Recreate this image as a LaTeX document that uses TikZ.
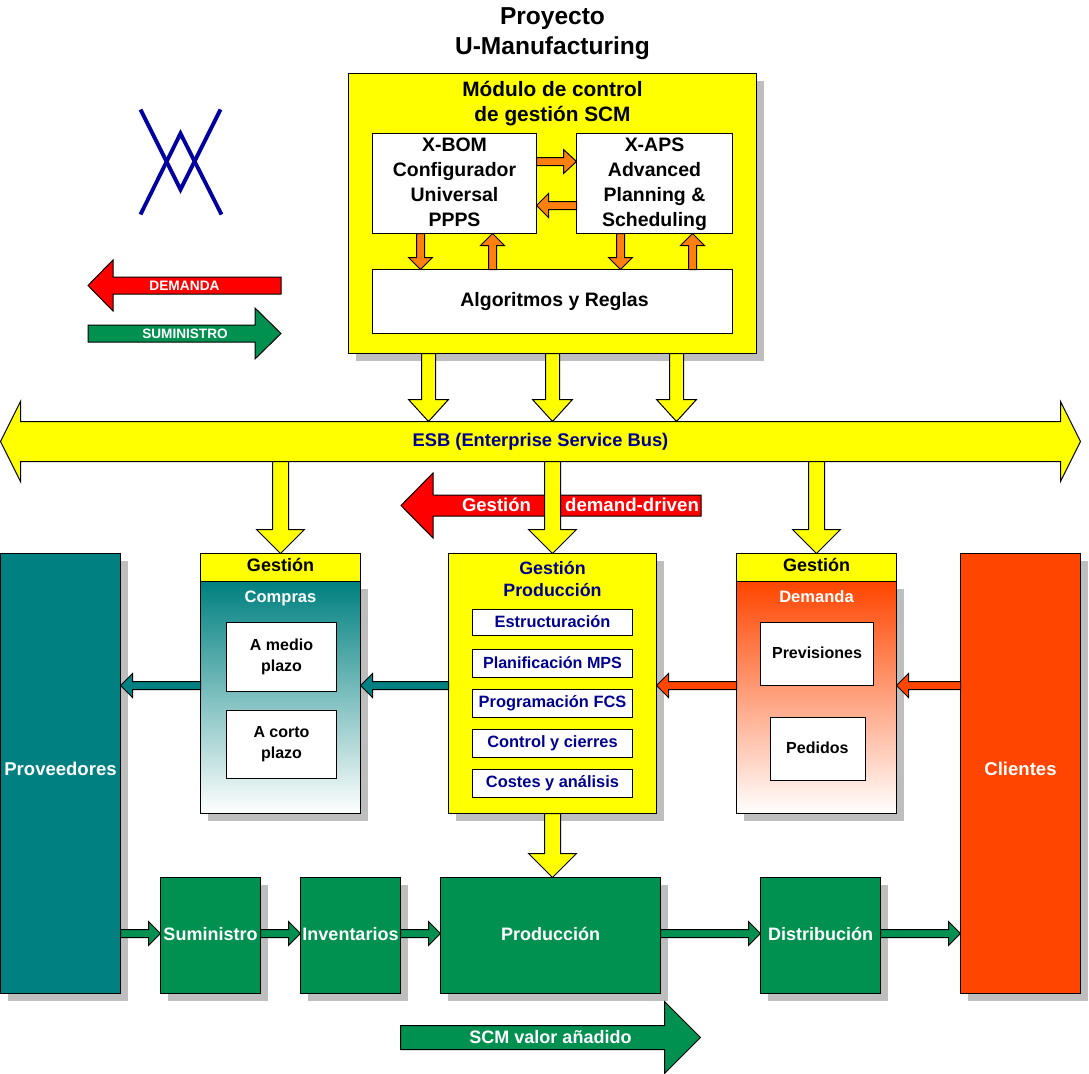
\documentclass[tikz,border=0pt]{standalone}
\usepackage{fontspec}
\setmainfont{Liberation Sans}
\usetikzlibrary{calc,shadows}
\definecolor{shadowc}{HTML}{BEBEBE}
\definecolor{yel}{HTML}{FFFF00}
\definecolor{org}{HTML}{FF7F0F}
\definecolor{tealc}{HTML}{008080}
\definecolor{redo}{HTML}{FF4500}
\definecolor{grn}{HTML}{009050}
\definecolor{navyc}{HTML}{000090}
\definecolor{logoc}{HTML}{0000A0}
\newcommand{\fsz}[2]{\fontsize{#1}{#2}\selectfont\bfseries}
\newcommand{\up}[2]{\raisebox{#1}{#2}}
\newcommand{\bx}[7][]{\node[boxn,#1,minimum width={(#5-#3)*0.75pt},minimum height={(#6-#4)*0.75pt}] (#2) at ({(#3+#5)/2},{(#4+#6)/2}) {#7};}
% block arrow from #1 to #2: shaft half, head half, head length in px
\newcommand{\barrow}[6]{%
  \coordinate (ba) at #1; \coordinate (bb) at #2;
  \coordinate (bc) at ($(bb)!{#5*0.75pt}!(ba)$);
  \draw[arrowb,fill=#6] ($(ba)!{#3*0.75pt}!90:(bb)$) -- ($(bc)!{#3*0.75pt}!90:(bb)$) -- ($(bc)!{#4*0.75pt}!90:(bb)$) -- (bb) -- ($(bc)!{#4*0.75pt}!-90:(bb)$) -- ($(bc)!{#3*0.75pt}!-90:(bb)$) -- ($(ba)!{#3*0.75pt}!-90:(bb)$) -- cycle;}
\tikzset{
  boxn/.style={draw=black,line width=0.75pt,inner sep=0pt,outer sep=0pt,align=center,font=\fsz{14.6}{18.75}},
  shad/.style={drop shadow={shadow xshift=5.5pt,shadow yshift=-5.5pt,fill=shadowc,opacity=1}},
  arrowb/.style={draw=black,line width=0.75pt,line join=miter},
  lbl/.style={inner sep=0pt,outer sep=0pt,align=center},
  logol/.style={draw=logoc,line width=2.9pt,line cap=butt,line join=miter},
  grad/.style={shade,top color=#1,bottom color=white,shading angle=0},
  blue/.style={text=navyc,font=\fsz{12.3}{15}},
  inbox/.style={fill=white,font=\fsz{12}{15.75}},
  green/.style={fill=grn,text=white,shad,font=\fsz{13.5}{16}},
  head/.style={fill=yel,font=\fsz{13.5}{16}},
}
\begin{document}
\begin{tikzpicture}[x=0.75pt,y=-0.75pt]
\useasboundingbox (-0.5,-0.5) rectangle (1088.5,1073.5);
% guides
\foreach \g in {280,420,428,492,552,620,676,692,816}{\coordinate (gx\g) at (\g,0);}
\foreach \g in {161,205,685,933}{\coordinate (gy\g) at (0,\g);}
% title
\node[lbl,font=\fsz{18.4}{22.5}] (title) at (552,33) {Proyecto\\U-Manufacturing};
% logo
\coordinate (la) at (140,109);\coordinate (lb) at (180,189);\coordinate (lc) at (220,109);
\coordinate (ld) at (140,214);\coordinate (le) at (180,133);\coordinate (lf) at (221,214);
\draw[logol] (la) -- (lb) -- (lc);
\draw[logol] (ld) -- (le) -- (lf);
% legend arrows
\coordinate (dema) at (280.5,285);\coordinate (demb) at (87.5,285);
\barrow{(dema)}{(demb)}{8.5}{25.5}{25}{red}
\node[lbl,text=white,font=\fsz{10.3}{12}] (demt) at (184,285) {DEMANDA};
\coordinate (suma) at (87.5,333);\coordinate (sumb) at (280.5,333);
\barrow{(suma)}{(sumb)}{8.5}{25.5}{26}{grn}
\node[lbl,text=white,font=\fsz{10.2}{12}] (sumt) at (184.5,333) {SUMINISTRO};
% module
\bx[fill=yel,shad]{mod}{348}{73}{756}{353}{}
\node[lbl,font=\fsz{15.6}{18.75}] (modt) at (552,103) {Módulo de control\\de gestión SCM};
\bx[fill=white]{xbom}{372}{133}{536}{233}{\strut X-BOM\\Configurador\\Universal\\PPPS\strut}
\bx[fill=white]{xaps}{576}{133}{732}{233}{\strut X-APS\\Advanced\\Planning \&\\Scheduling\strut}
\bx[fill=white]{algo}{372}{269}{732}{333}{\hspace*{3pt}\up{-1.5pt}{Algoritmos y Reglas}}
\barrow{(xbom.east |- gy161)}{(xaps.west |- gy161)}{4}{12}{13}{org}
\barrow{(xaps.west |- gy205)}{(xbom.east |- gy205)}{4}{12}{12}{org}
\barrow{(xbom.south -| gx420)}{(algo.north -| gx420)}{4}{12}{12}{org}
\barrow{(algo.north -| gx492)}{(xbom.south -| gx492)}{4}{12}{12}{org}
\barrow{(xaps.south -| gx620)}{(algo.north -| gx620)}{4}{12}{12}{org}
\barrow{(algo.north -| gx692)}{(xaps.south -| gx692)}{4}{12}{12}{org}
% bus
\coordinate (bl) at (0,441);\coordinate (br) at (1080,441);
\draw[arrowb,fill=yel] (bl) -- (20,401) -- (20,421) -- (1060,421) -- (1060,401) -- (br) -- (1060,481) -- (1060,461) -- (20,461) -- (20,481) -- cycle;
\node[lbl,text=navyc,font=\fsz{13.75}{16},minimum width=780pt,minimum height=30pt] (bus) at (540,441) {\up{-0.5pt}{ESB (Enterprise Service Bus)}};
\barrow{(mod.south -| gx428)}{(bus.north -| gx428)}{7}{20}{22}{yel}
\barrow{(mod.south -| gx552)}{(bus.north -| gx552)}{7}{20}{22}{yel}
\barrow{(mod.south -| gx676)}{(bus.north -| gx676)}{7}{20}{22}{yel}
% demand-driven arrow
\coordinate (dda) at (700.5,505);\coordinate (ddb) at (400.5,505);
\barrow{(dda)}{(ddb)}{10.5}{32.5}{32}{red}
\node[lbl,text=white,font=\fsz{13.9}{16}] (ddl) at (496,504.5) {Gestión};
\node[lbl,text=white,font=\fsz{14}{16}] (ddr) at (631.5,504.5) {demand-driven};
% suppliers and clients
\bx[fill=tealc,text=white,shad,font=\fsz{13.9}{16}]{prov}{0}{553}{120}{993}{\up{6.5pt}{Proveedores}}
\bx[fill=redo,text=white,shad,font=\fsz{13.9}{16}]{cli}{960}{553}{1080}{993}{\up{6.5pt}{Clientes}}
% compras
\bx[grad=tealc,shad]{comp}{200}{581}{360}{813}{}
\bx[head]{comph}{200}{553}{360}{581}{\up{3.5pt}{Gestión}}
\node[lbl,text=white,font=\fsz{12.4}{15}] (compt) at (280,597.5) {Compras};
\bx[inbox]{medio}{226}{622}{336}{691}{A medio\\plazo}
\bx[inbox]{corto}{226}{710}{336}{778}{A corto\\plazo}
% produccion
\bx[fill=yel,shad]{gprod}{448}{553}{656}{813}{}
\node[lbl,text=navyc,font=\fsz{13.4}{16.1}] (gprodt) at (552,578.5) {Gestión\\Producción};
\bx[fill=white,blue]{e1}{472}{609}{632}{635}{\up{1.5pt}{Estructuración}}
\bx[fill=white,blue,font=\fsz{12.1}{15}]{e2}{472}{649}{632}{677}{\up{0.75pt}{Planificación MPS}}
\bx[fill=white,blue]{e3}{472}{689}{632}{717}{\up{-1.5pt}{Programación FCS}}
\bx[fill=white,blue]{e4}{472}{729}{632}{757}{Control y cierres}
\bx[fill=white,blue]{e5}{472}{769}{632}{797}{\up{-1.5pt}{Costes y análisis}}
% demanda
\bx[grad=redo,shad]{dem}{736}{581}{896}{813}{}
\bx[head]{demh}{736}{553}{896}{581}{\up{3.5pt}{Gestión}}
\node[lbl,text=white,font=\fsz{12.4}{15}] (demdt) at (816,596) {Demanda};
\bx[inbox]{prev}{760}{622}{873}{685}{\up{1.5pt}{Previsiones}}
\bx[inbox]{ped}{770}{717}{865}{780}{\hspace*{-1pt}\up{1.5pt}{Pedidos}}
% bus down arrows
\barrow{(bus.south -| gx280)}{(comph.north -| gx280)}{8}{24}{24}{yel}
\barrow{(bus.south -| gx552)}{(gprod.north -| gx552)}{8}{24}{24}{yel}
\barrow{(bus.south -| gx816)}{(demh.north -| gx816)}{8}{24}{24}{yel}
% information flow
\barrow{(comp.west |- gy685)}{(prov.east |- gy685)}{4}{12}{12}{tealc}
\barrow{(gprod.west |- gy685)}{(comp.east |- gy685)}{4}{12}{12}{tealc}
\barrow{(dem.west |- gy685)}{(gprod.east |- gy685)}{4}{12}{12}{redo}
\barrow{(cli.west |- gy685)}{(dem.east |- gy685)}{4}{12}{12}{redo}
% physical flow
\bx[green]{sum}{160}{877}{260}{993}{\up{3pt}{Suministro}}
\bx[green]{inv}{300}{877}{400}{993}{\up{3pt}{Inventarios}}
\bx[green]{pro}{440}{877}{660}{993}{\up{3pt}{Producción}}
\bx[green]{dis}{760}{877}{880}{993}{\up{3pt}{Distribución}}
\barrow{(gprod.south -| gx552)}{(pro.north -| gx552)}{8}{24}{24}{yel}
\barrow{(prov.east |- gy933)}{(sum.west |- gy933)}{4}{12}{12}{grn}
\barrow{(sum.east |- gy933)}{(inv.west |- gy933)}{4}{12}{12}{grn}
\barrow{(inv.east |- gy933)}{(pro.west |- gy933)}{4}{12}{12}{grn}
\barrow{(pro.east |- gy933)}{(dis.west |- gy933)}{4}{12}{12}{grn}
\barrow{(dis.east |- gy933)}{(cli.west |- gy933)}{4}{12}{12}{grn}
% value added
\coordinate (sva) at (400,1037);\coordinate (svb) at (700,1037);
\barrow{(sva)}{(svb)}{12}{36}{36}{grn}
\node[lbl,text=white,font=\fsz{13.5}{16}] (svt) at (550,1037) {SCM valor añadido};
\end{tikzpicture}
\end{document}
